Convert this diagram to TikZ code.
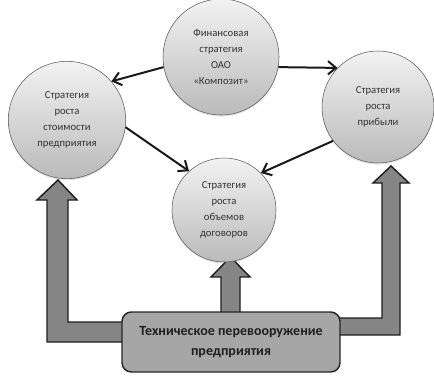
\documentclass[tikz,border=0pt]{standalone}
\usepackage{fontspec}
\setmainfont{Carlito}
\usetikzlibrary{arrows.meta, shadows}

\begin{document}
\begin{tikzpicture}[
        x=0.75pt, y=-0.75pt,
        >={Straight Barb[length=6pt, width=10pt]},
        strat/.style={circle, draw=black!65, thin, top color=black!5, bottom color=black!27,
            align=center, text=black!80, font=\fontsize{8}{11.8}\selectfont,
            drop shadow={opacity=0.2, shadow xshift=0pt, shadow yshift=-1.2pt}},
        link/.style={->, line width=1.5pt, black!90},
        blockarr/.style={fill=black!48, draw=black!88, line width=1.1pt, line join=miter},
        base/.style={rectangle, rounded corners=7pt, fill=black!35, draw=black!85,
            line width=1.1pt, align=center, text=black!88,
            font=\bfseries\fontsize{10.5}{15}\selectfont}
    ]
        \useasboundingbox[fill=white] (0,0) rectangle (434,375);

        % wide arrows from the base box up to the strategies
        \draw[blockarr] (125,322) -- (68,322) -- (68,200) -- (77,200) -- (58,180)
            -- (37,200) -- (47,200) -- (47,342) -- (125,342) -- cycle;
        \draw[blockarr] (221,314) -- (221,277) -- (211,277) -- (230.5,257)
            -- (250,277) -- (240,277) -- (240,314) -- cycle;
        \draw[blockarr] (336,318) -- (382,318) -- (382,183) -- (373,183) -- (391,166)
            -- (409,183) -- (400,183) -- (400,335) -- (336,335) -- cycle;

        \node[base, minimum width=163.5pt, minimum height=45pt] (tech) at (231,342)
            {Техническое перевооружение\\предприятия};

        \node[strat, minimum size=87pt] (fin)   at (221,57)  {Финансовая\\стратегия\\ОАО\\«Композит»};
        \node[strat, minimum size=88pt] (value) at (67,120)  {Стратегия\\роста\\стоимости\\предприятия};
        \node[strat, minimum size=84pt] (profit) at (378,107) {Стратегия\\роста\\прибыли};
        \node[strat, minimum size=78pt] (deals) at (224,210) {Стратегия\\роста\\объемов\\договоров};

        \draw[link] (fin.190) -- (value.41);
        \draw[link] (fin.350) -- (profit.136);
        \draw[link] (value.353) -- (deals.132);
        \draw[link] (profit.217) -- (deals.45);
    \end{tikzpicture}
\end{document}
